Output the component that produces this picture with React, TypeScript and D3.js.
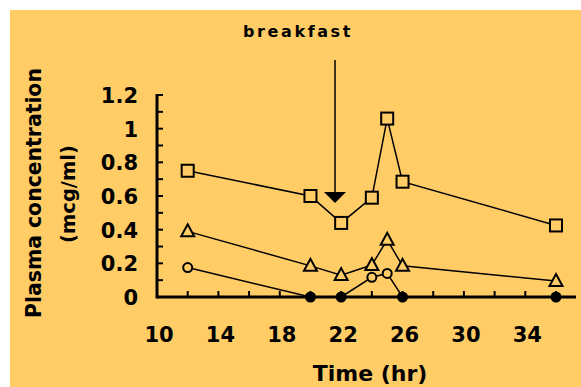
import React from "react";
import * as d3 from "d3";

const times = [12, 20, 22, 24, 25, 26, 36];
const squareSeries = [0.75, 0.6, 0.44, 0.59, 1.06, 0.685, 0.425];
const triangleSeries = [0.39, 0.185, 0.13, 0.19, 0.34, 0.185, 0.095];
const circleSeries = [0.175, 0, 0, 0.117, 0.14, 0, 0];
const xTicks = [10, 14, 18, 22, 26, 30, 34];
const yTicks = [0, 0.2, 0.4, 0.6, 0.8, 1, 1.2];
const breakfastTime = 21.6;

const W = 581, H = 387;
const bg = "#ffcc66";
const font = "'DejaVu Sans', Verdana, sans-serif";

export default function App() {
  const x = d3.scaleLinear().domain([10, 36]).range([157, 556]);
  const y = d3.scaleLinear().domain([0, 1.2]).range([297, 95]);
  const line = d3.line<number>().x((d, i) => x(times[i])).y((d) => y(d));

  const minorX = d3.range(10, 37, 2);
  const minorY = d3.range(0, 1.21, 0.1);
  const ax = x(breakfastTime);

  return (
    <svg width={W} height={H} style={{ position: "absolute", left: 0, top: 0 }}>
      <rect x={0} y={0} width={W} height={H} fill="#fff" />
      <rect x={10} y={10} width={W - 10} height={H - 10} fill={bg} />

      {/* axes */}
      <line x1={x(10)} x2={576} y1={y(0)} y2={y(0)} stroke="#000" strokeWidth={3} />
      <line x1={x(10)} x2={x(10)} y1={y(0) + 1.5} y2={y(1.2) - 1} stroke="#000" strokeWidth={3} />
      {minorX.map((t) => (
        <line key={"xt" + t} x1={x(t)} x2={x(t)} y1={y(0)} y2={y(0) - 6} stroke="#000" strokeWidth={2} />
      ))}
      {minorY.map((t, i) => (
        <line key={"yt" + i} x1={x(10)} x2={x(10) + 6} y1={y(t)} y2={y(t)} stroke="#000" strokeWidth={2} />
      ))}
      {xTicks.map((t) => (
        <text key={"xl" + t} x={x(t) + 2} y={342} textAnchor="middle" fontFamily={font} fontWeight="bold" fontSize={21}>
          {t}
        </text>
      ))}
      {yTicks.map((t) => (
        <text key={"yl" + t} x={138} y={y(t) + 8} textAnchor="end" fontFamily={font} fontWeight="bold" fontSize={21}>
          {String(t)}
        </text>
      ))}

      <text x={370} y={381} textAnchor="middle" fontFamily={font} fontWeight="bold" fontSize={22}>
        Time (hr)
      </text>
      <text transform={`translate(41,193) rotate(-90)`} textAnchor="middle" fontFamily={font} fontWeight="bold" fontSize={20.4}>
        Plasma concentration
      </text>
      <text transform={`translate(75,194) rotate(-90)`} textAnchor="middle" fontFamily={font} fontWeight="bold" fontSize={19.5}>
        (mcg/ml)
      </text>

      {/* breakfast marker */}
      <text x={243} y={37} fontFamily={font} fontWeight="bold" fontSize={16} letterSpacing={2.6}>
        breakfast
      </text>
      <line x1={ax} x2={ax} y1={60} y2={192} stroke="#000" strokeWidth={1.5} />
      <path d={`M${ax - 11},192 L${ax + 11},192 L${ax},203 Z`} fill="#000" />

      {/* series */}
      <path d={line(squareSeries) || ""} fill="none" stroke="#000" strokeWidth={1.5} />
      <path d={line(triangleSeries) || ""} fill="none" stroke="#000" strokeWidth={1.5} />
      <path d={line(circleSeries) || ""} fill="none" stroke="#000" strokeWidth={1.5} />

      {squareSeries.map((v, i) => (
        <rect key={"s" + i} x={x(times[i]) - 6} y={y(v) - 6} width={12} height={12} fill={bg} stroke="#000" strokeWidth={2} />
      ))}
      {triangleSeries.map((v, i) => {
        const cx = x(times[i]), cy = y(v);
        return (
          <path key={"t" + i} d={`M${cx},${cy - 7} L${cx + 6.5},${cy + 5} L${cx - 6.5},${cy + 5} Z`} fill={bg} stroke="#000" strokeWidth={2} />
        );
      })}
      {circleSeries.map((v, i) => (
        <circle key={"c" + i} cx={x(times[i])} cy={y(v)} r={4.5} fill={v === 0 ? "#000" : bg} stroke="#000" strokeWidth={2} />
      ))}
    </svg>
  );
}
